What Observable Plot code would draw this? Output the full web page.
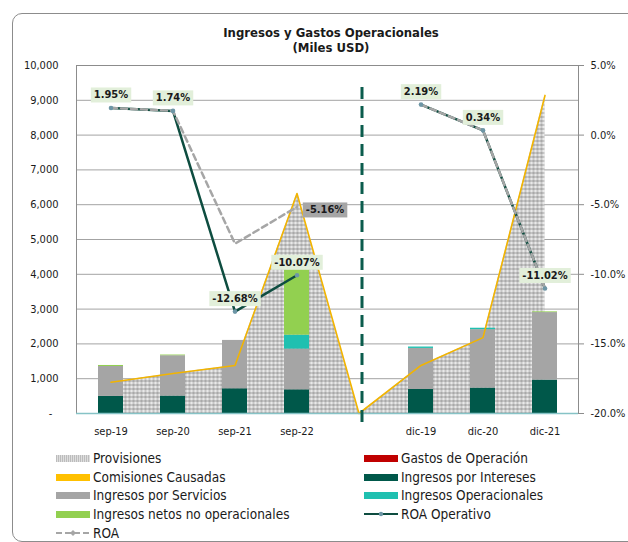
<!DOCTYPE html>
<html><head><meta charset="utf-8">
<script src="https://cdn.jsdelivr.net/npm/d3@7"></script>
<script src="https://cdn.jsdelivr.net/npm/@observablehq/plot@0.6"></script>
<style>
body{margin:0;background:#fff;}
#wrap{position:relative;width:628px;height:542px;overflow:hidden;font-family:"DejaVu Sans Condensed","DejaVu Sans",sans-serif;color:#1a1a1a;}
#box{position:absolute;left:12px;top:13px;width:660px;height:527px;border:1px solid #8c8c8c;border-radius:10px;}
.title{position:absolute;left:0;width:662px;text-align:center;font-weight:bold;font-size:13px;line-height:15px;}
#chart{position:absolute;left:0;top:0;}
.leg{position:absolute;font-size:13.5px;display:flex;align-items:center;white-space:nowrap;height:16px;}
.sw{width:34px;height:7px;margin-right:3px;}
</style></head>
<body>
<div id="wrap">
  <div id="box"></div>
  <div class="title" style="top:25px">Ingresos y Gastos Operacionales</div>
  <div class="title" style="top:40px">(Miles USD)</div>
  <div id="chart"></div>
  <div id="legend"></div>
</div>
<script>
// ---- data ----
const categories = ["sep-19","sep-20","sep-21","sep-22","","dic-19","dic-20","dic-21"];
const interesesData       = [490, 500, 710, 680, null, 690, 730, 960];
const serviciosData       = [860, 1160, 1390, 1170, null, 1180, 1680, 1940];
const operacionalesData   = [0, 0, 0, 400, null, 40, 40, 0];
const noOperacionalesData = [30, 20, 0, 1880, null, 0, 0, 20];
const gastosData          = [null, null, null, null, null, null, null, null];
const provisionesData     = [900, 1150, 1380, 6320, 0, 1380, 2180, 9140];
const comisionesData      = [900, 1150, 1380, 6320, 0, 1380, 2180, 9140];
const roaOperativoData    = [1.95, 1.74, -12.68, -10.07, null, 2.19, 0.34, -11.02];
const roaData             = [1.95, 1.74, -7.80, -5.16, null, 2.19, 0.34, -11.02];
const roaLabelIndex       = [3];
const leftTicks  = [0,1000,2000,3000,4000,5000,6000,7000,8000,9000,10000];
const rightTicks = [5,0,-5,-10,-15,-20];

const seriesNames  = ["Ingresos por Intereses","Ingresos por Servicios","Ingresos Operacionales","Ingresos netos no operacionales","Gastos de Operación"];
const seriesColors = ["#00584a","#a5a5a5","#1fc0b0","#92d050","#c00000"];
const seriesValues = [interesesData, serviciosData, operacionalesData, noOperacionalesData, gastosData];

const FONT = '"DejaVu Sans Condensed","DejaVu Sans",sans-serif';
const pctToY = p => (p == null ? null : (p + 20) * 400);   // right axis (-20%..5%) onto left (0..10000)

const barRows = [];
seriesNames.forEach((s, k) => categories.forEach((c, i) => {
  if (seriesValues[k][i] != null) barRows.push({cat: c, series: s, v: seriesValues[k][i]});
}));
const provRows = categories.map((c, i) => ({cat: c, v: provisionesData[i]}));
const comRows  = categories.map((c, i) => ({cat: c, v: comisionesData[i]}));
const roaOpRows = categories.map((c, i) => ({cat: c, p: roaOperativoData[i], y: pctToY(roaOperativoData[i])}));
const roaRows   = categories.map((c, i) => ({cat: c, p: roaData[i], y: pctToY(roaData[i])}));
const roaLabelRows = roaLabelIndex.map(i => roaRows[i]);

const LBL1 = "#1a1a1b", LBL2 = "#1a1a1c";

const chart = Plot.plot({
  width: 628, height: 450,
  marginLeft: 76, marginRight: 50, marginTop: 65, marginBottom: 37,
  style: {fontFamily: FONT, fontSize: "11px", color: "#1a1a1a", background: "transparent", overflow: "visible"},
  x: {type: "band", domain: categories, paddingInner: 0.6, paddingOuter: 0.3, label: null},
  y: {domain: [0, 10000], label: null},
  color: {domain: seriesNames, range: seriesColors},
  marks: [
    Plot.gridY(leftTicks, {stroke: "#a3a3a3", strokeOpacity: 1}),
    Plot.areaY(provRows, {x: "cat", y: "v", fill: "url(#provPattern)"}),
    Plot.barY(barRows, {x: "cat", y: "v", fill: "series", order: seriesNames}),
    Plot.line(comRows, {x: "cat", y: "v", stroke: "#f2b400", strokeWidth: 1.6}),
    Plot.frame({stroke: "#8c8c8c"}),
    Plot.ruleY([0], {stroke: "#86c3c6", strokeWidth: 1.5}),
    Plot.ruleX([""], {y1: 9370, y2: -260, dx: 3, stroke: "#0b5c4d", strokeWidth: 3, strokeDasharray: "12,7"}),
    Plot.line(roaOpRows, {x: "cat", y: "y", stroke: "#0e4d40", strokeWidth: 2.5}),
    Plot.line(roaRows, {x: "cat", y: "y", stroke: "#a6a6a6", strokeWidth: 2.5, strokeDasharray: "6,4"}),
    Plot.dot(roaOpRows.filter(d => d.y != null), {x: "cat", y: "y", r: 2.3, fill: "#6d96a6"}),
    Plot.axisY(leftTicks, {anchor: "left", tickSize: 0, tickPadding: 18, fontSize: 11,
      tickFormat: v => v === 0 ? "-  " : d3.format(",")(v)}),
    Plot.axisY(rightTicks.map(pctToY), {anchor: "right", tickSize: 5, tickPadding: 7, fontSize: 11, stroke: "#8c8c8c",
      tickFormat: v => (v / 400 - 20).toFixed(1) + "%"}),
    Plot.axisX({tickSize: 0, tickPadding: 14, fontSize: 11}),
    Plot.text(roaOpRows.filter(d => d.y != null), {x: "cat", y: "y", text: d => d.p.toFixed(2) + "%", dy: -13,
      fontWeight: "bold", fontSize: 11, fill: LBL1}),
    Plot.text(roaLabelRows, {x: "cat", y: "y", text: d => d.p.toFixed(2) + "%", dx: 28, dy: 3,
      fontWeight: "bold", fontSize: 11, fill: LBL2})
  ]
});
document.getElementById("chart").appendChild(chart);

// pattern for Provisiones
const NS = "http://www.w3.org/2000/svg";
const defs = document.createElementNS(NS, "defs");
defs.innerHTML = `<pattern id="provPattern" width="4" height="4" patternUnits="userSpaceOnUse">
  <rect width="4" height="4" fill="#c6c6c6"/><rect width="2" height="2" fill="#a9a9a9"/><rect x="2" y="2" width="2" height="2" fill="#e9e9e9"/></pattern>`;
chart.insertBefore(defs, chart.firstChild);

// label boxes
function boxes(color, fill) {
  chart.querySelectorAll("text").forEach(t => {
    const f = t.getAttribute("fill") || (t.parentNode && t.parentNode.getAttribute && t.parentNode.getAttribute("fill"));
    if (!f || f.toLowerCase() !== color) return;
    const b = t.getBBox();
    const r = document.createElementNS(NS, "rect");
    r.setAttribute("x", b.x - 3); r.setAttribute("y", b.y - 1);
    r.setAttribute("width", b.width + 6); r.setAttribute("height", b.height + 2);
    r.setAttribute("fill", fill);
    if (t.getAttribute("transform")) r.setAttribute("transform", t.getAttribute("transform"));
    t.parentNode.insertBefore(r, t);
  });
}
boxes(LBL1, "#e2efda");
boxes(LBL2, "#a6a6a6");

// legend
const legendItems = [
  {name: "Provisiones", kind: "pattern", left: 56, top: 450},
  {name: "Comisiones Causadas", kind: "fill", color: "#ffc000", left: 56, top: 469},
  {name: "Ingresos por Servicios", kind: "fill", color: "#a5a5a5", left: 56, top: 487},
  {name: "Ingresos netos no operacionales", kind: "fill", color: "#92d050", left: 56, top: 506},
  {name: "ROA", kind: "dash", left: 56, top: 525},
  {name: "Gastos de Operación", kind: "fill", color: "#c00000", left: 364, top: 450},
  {name: "Ingresos por Intereses", kind: "fill", color: "#00584a", left: 364, top: 469},
  {name: "Ingresos Operacionales", kind: "fill", color: "#1fc0b0", left: 364, top: 487},
  {name: "ROA Operativo", kind: "line", left: 364, top: 506}
];
const leg = document.getElementById("legend");
legendItems.forEach(it => {
  const d = document.createElement("div");
  d.className = "leg"; d.style.left = it.left + "px"; d.style.top = it.top + "px";
  let sw;
  if (it.kind === "fill") sw = `<div class="sw" style="background:${it.color}"></div>`;
  else if (it.kind === "pattern") sw = `<div class="sw" style="background:repeating-linear-gradient(90deg,#bcbcbc 0 1px,#dedede 1px 2px)"></div>`;
  else if (it.kind === "dash") sw = `<svg width="34" height="8" style="margin-right:3px"><line x1="0" y1="4" x2="34" y2="4" stroke="#a6a6a6" stroke-width="2" stroke-dasharray="6,3"/><path d="M17 1 L20 4 L17 7 L14 4Z" fill="#a6a6a6"/></svg>`;
  else sw = `<svg width="34" height="8" style="margin-right:3px"><line x1="0" y1="4" x2="34" y2="4" stroke="#0e4d40" stroke-width="2"/><circle cx="17" cy="4" r="2.2" fill="#6d96a6"/></svg>`;
  d.innerHTML = sw + `<span>${it.name}</span>`;
  leg.appendChild(d);
});
</script>
</body></html>
